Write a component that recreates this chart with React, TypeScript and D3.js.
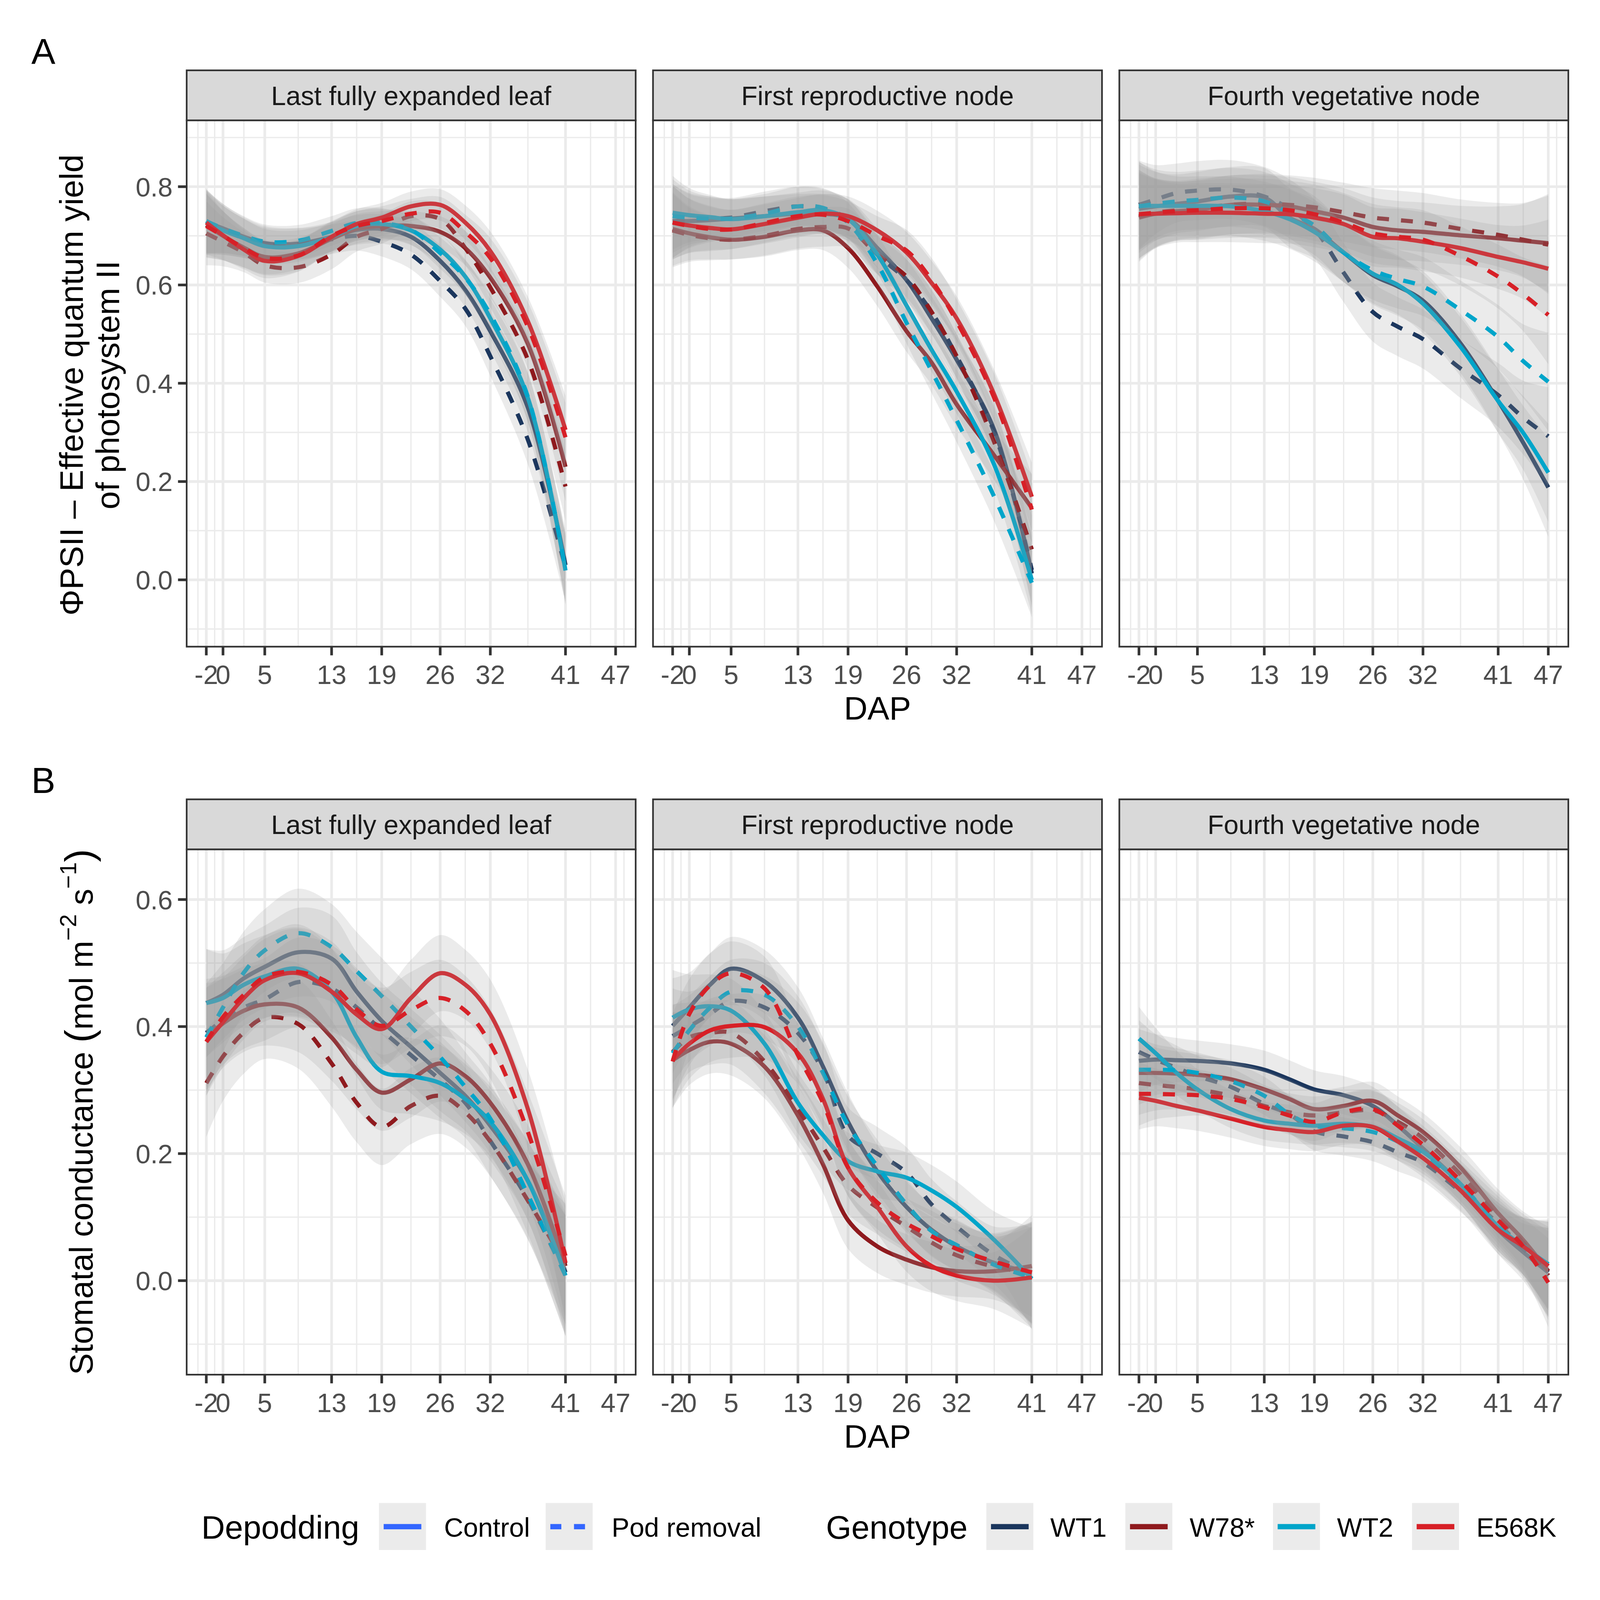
import * as d3 from "d3";

// DAP positions the smooths were read at (panels 1-2 stop at 41, panel 3 runs to 47)
const dapEarly = [-2, 0, 2.5, 5, 9, 13, 16, 19, 22.5, 26, 29, 32, 36.5, 41];
const dapFull = [-2, 0, 2.5, 5, 9, 13, 16, 19, 22.5, 26, 29, 32, 36.5, 41, 44, 47];
const dapBreaks = [-2, 0, 5, 13, 19, 26, 32, 41, 47];
const dapMinor = [-3, -1, 2.5, 9, 16, 22.5, 29, 36.5, 44, 48];

const nodes = ["Last fully expanded leaf", "First reproductive node", "Fourth vegetative node"];
const genotypes = ["WT1", "W78*", "WT2", "E568K"];
const genotypeColors = ["#1B365D", "#8F1A1E", "#00A5CA", "#D72027"];
const depodding = ["Control", "Pod removal"];

const psiiBreaks = [0, 0.2, 0.4, 0.6, 0.8];
const psiiMinor = [-0.1, 0.1, 0.3, 0.5, 0.7, 0.9];
const gsBreaks = [0, 0.2, 0.4, 0.6];
const gsMinor = [-0.1, 0.1, 0.3, 0.5];

// --- PhiPSII, last fully expanded leaf
const psiiLeafWT1 = [0.728, 0.715, 0.698, 0.685, 0.684, 0.698, 0.712, 0.714, 0.698, 0.649, 0.59, 0.506, 0.35, 0.03];
const psiiLeafWT1Pod = [0.73, 0.712, 0.695, 0.682, 0.683, 0.693, 0.7, 0.688, 0.662, 0.608, 0.552, 0.455, 0.285, 0.025];
const psiiLeafW78 = [0.722, 0.7, 0.676, 0.657, 0.664, 0.694, 0.714, 0.72, 0.72, 0.708, 0.675, 0.615, 0.48, 0.23];
const psiiLeafW78Pod = [0.705, 0.688, 0.666, 0.64, 0.636, 0.662, 0.698, 0.714, 0.74, 0.734, 0.675, 0.595, 0.448, 0.19];
const psiiLeafWT2 = [0.727, 0.711, 0.695, 0.679, 0.679, 0.698, 0.72, 0.724, 0.711, 0.672, 0.617, 0.532, 0.37, 0.019];
const psiiLeafWT2Pod = [0.73, 0.715, 0.7, 0.688, 0.69, 0.71, 0.726, 0.726, 0.712, 0.665, 0.615, 0.54, 0.372, 0.02];
const psiiLeafE568K = [0.727, 0.701, 0.672, 0.649, 0.659, 0.698, 0.724, 0.737, 0.76, 0.763, 0.727, 0.669, 0.526, 0.305];
const psiiLeafE568KPod = [0.72, 0.7, 0.675, 0.655, 0.66, 0.7, 0.72, 0.73, 0.745, 0.747, 0.708, 0.655, 0.515, 0.29];
const psiiLeafSE = [0.065, 0.05, 0.04, 0.035, 0.032, 0.03, 0.03, 0.03, 0.03, 0.032, 0.035, 0.04, 0.05, 0.07];

// --- PhiPSII, first reproductive node
const psiiReproWT1 = [0.73, 0.73, 0.732, 0.735, 0.74, 0.745, 0.745, 0.735, 0.675, 0.61, 0.532, 0.448, 0.305, 0.013];
const psiiReproWT1Pod = [0.73, 0.732, 0.735, 0.737, 0.75, 0.76, 0.755, 0.734, 0.662, 0.61, 0.545, 0.455, 0.3, 0.02];
const psiiReproW78 = [0.714, 0.705, 0.697, 0.692, 0.698, 0.711, 0.711, 0.675, 0.597, 0.506, 0.442, 0.357, 0.253, 0.146];
const psiiReproW78Pod = [0.711, 0.702, 0.695, 0.692, 0.7, 0.714, 0.718, 0.715, 0.662, 0.617, 0.545, 0.455, 0.28, 0.062];
const psiiReproWT2 = [0.747, 0.742, 0.738, 0.734, 0.74, 0.748, 0.752, 0.734, 0.662, 0.558, 0.468, 0.383, 0.234, 0.0];
const psiiReproWT2Pod = [0.74, 0.737, 0.735, 0.735, 0.745, 0.76, 0.757, 0.727, 0.643, 0.523, 0.425, 0.325, 0.169, -0.006];
const psiiReproE568K = [0.727, 0.721, 0.716, 0.713, 0.724, 0.737, 0.745, 0.74, 0.711, 0.666, 0.604, 0.532, 0.377, 0.169];
const psiiReproE568KPod = [0.727, 0.72, 0.714, 0.713, 0.726, 0.74, 0.743, 0.73, 0.7, 0.67, 0.61, 0.526, 0.37, 0.143];
const psiiReproSE = [0.075, 0.055, 0.045, 0.04, 0.04, 0.04, 0.04, 0.04, 0.04, 0.042, 0.045, 0.045, 0.05, 0.07];

// --- PhiPSII, fourth vegetative node
const psiiVegWT1 = [0.755, 0.76, 0.765, 0.77, 0.78, 0.778, 0.737, 0.714, 0.666, 0.62, 0.597, 0.568, 0.481, 0.364, 0.279, 0.188];
const psiiVegWT1Pod = [0.763, 0.774, 0.787, 0.792, 0.794, 0.78, 0.755, 0.714, 0.625, 0.545, 0.515, 0.49, 0.43, 0.376, 0.33, 0.292];
const psiiVegW78 = [0.737, 0.745, 0.75, 0.753, 0.763, 0.763, 0.76, 0.75, 0.737, 0.718, 0.711, 0.708, 0.701, 0.695, 0.69, 0.685];
const psiiVegW78Pod = [0.74, 0.747, 0.752, 0.756, 0.763, 0.766, 0.763, 0.758, 0.748, 0.737, 0.732, 0.727, 0.714, 0.702, 0.692, 0.682];
const psiiVegWT2 = [0.761, 0.761, 0.761, 0.761, 0.76, 0.75, 0.734, 0.708, 0.666, 0.623, 0.6, 0.562, 0.474, 0.364, 0.299, 0.218];
const psiiVegWT2Pod = [0.76, 0.765, 0.77, 0.773, 0.778, 0.77, 0.747, 0.721, 0.666, 0.63, 0.612, 0.597, 0.549, 0.494, 0.445, 0.403];
const psiiVegE568K = [0.744, 0.745, 0.746, 0.747, 0.747, 0.745, 0.744, 0.737, 0.724, 0.698, 0.695, 0.688, 0.675, 0.657, 0.646, 0.633];
const psiiVegE568KPod = [0.744, 0.747, 0.75, 0.752, 0.756, 0.756, 0.752, 0.744, 0.727, 0.705, 0.698, 0.692, 0.659, 0.617, 0.581, 0.539];
const psiiVegSE = [0.09, 0.07, 0.06, 0.06, 0.06, 0.06, 0.06, 0.06, 0.06, 0.06, 0.06, 0.06, 0.06, 0.065, 0.075, 0.1];

// --- stomatal conductance, last fully expanded leaf
const gsLeafWT1 = [0.437, 0.45, 0.476, 0.494, 0.517, 0.507, 0.455, 0.409, 0.368, 0.327, 0.291, 0.244, 0.157, 0.013];
const gsLeafWT1Pod = [0.39, 0.41, 0.43, 0.443, 0.47, 0.46, 0.43, 0.394, 0.355, 0.316, 0.28, 0.22, 0.128, 0.008];
const gsLeafW78 = [0.383, 0.405, 0.425, 0.435, 0.43, 0.383, 0.332, 0.296, 0.317, 0.342, 0.322, 0.28, 0.183, 0.023];
const gsLeafW78Pod = [0.311, 0.353, 0.391, 0.414, 0.404, 0.342, 0.28, 0.242, 0.275, 0.291, 0.265, 0.219, 0.126, 0.026];
const gsLeafWT2 = [0.437, 0.445, 0.466, 0.479, 0.491, 0.455, 0.383, 0.329, 0.322, 0.311, 0.286, 0.25, 0.157, 0.008];
const gsLeafWT2Pod = [0.383, 0.43, 0.485, 0.52, 0.547, 0.525, 0.487, 0.448, 0.4, 0.352, 0.305, 0.255, 0.135, 0.008];
const gsLeafE568K = [0.376, 0.407, 0.445, 0.473, 0.484, 0.455, 0.419, 0.396, 0.445, 0.484, 0.466, 0.419, 0.27, 0.028];
const gsLeafE568KPod = [0.376, 0.415, 0.45, 0.478, 0.486, 0.466, 0.427, 0.401, 0.426, 0.445, 0.425, 0.373, 0.234, 0.039];
const gsLeafSE = [0.085, 0.07, 0.065, 0.065, 0.07, 0.068, 0.062, 0.06, 0.06, 0.06, 0.055, 0.055, 0.062, 0.095];

// --- stomatal conductance, first reproductive node
const gsReproWT1 = [0.401, 0.43, 0.466, 0.491, 0.471, 0.414, 0.337, 0.25, 0.172, 0.116, 0.08, 0.054, 0.028, 0.013];
const gsReproWT1Pod = [0.385, 0.4, 0.42, 0.44, 0.43, 0.39, 0.33, 0.228, 0.2, 0.17, 0.12, 0.085, 0.04, 0.01];
const gsReproW78 = [0.347, 0.363, 0.376, 0.373, 0.337, 0.26, 0.183, 0.095, 0.054, 0.033, 0.021, 0.015, 0.015, 0.023];
const gsReproW78Pod = [0.36, 0.383, 0.39, 0.39, 0.345, 0.27, 0.21, 0.15, 0.115, 0.085, 0.06, 0.04, 0.022, 0.012];
const gsReproWT2 = [0.414, 0.427, 0.432, 0.425, 0.373, 0.28, 0.229, 0.188, 0.172, 0.162, 0.142, 0.116, 0.064, 0.003];
const gsReproWT2Pod = [0.358, 0.394, 0.43, 0.455, 0.45, 0.4, 0.327, 0.245, 0.18, 0.12, 0.078, 0.056, 0.025, 0.005];
const gsReproE568K = [0.347, 0.373, 0.394, 0.401, 0.399, 0.358, 0.286, 0.178, 0.116, 0.054, 0.023, 0.008, 0.0, 0.005];
const gsReproE568KPod = [0.345, 0.42, 0.465, 0.484, 0.46, 0.355, 0.28, 0.178, 0.123, 0.09, 0.07, 0.05, 0.03, 0.013];
const gsReproSE = [0.075, 0.055, 0.05, 0.05, 0.05, 0.048, 0.045, 0.045, 0.042, 0.04, 0.04, 0.04, 0.045, 0.08];

// --- stomatal conductance, fourth vegetative node
const gsVegWT1 = [0.346, 0.348, 0.347, 0.346, 0.342, 0.332, 0.317, 0.301, 0.292, 0.275, 0.244, 0.208, 0.152, 0.08, 0.045, 0.013];
const gsVegWT1Pod = [0.36, 0.348, 0.335, 0.322, 0.305, 0.278, 0.262, 0.235, 0.227, 0.218, 0.202, 0.186, 0.14, 0.09, 0.05, 0.013];
const gsVegW78 = [0.327, 0.327, 0.326, 0.324, 0.317, 0.301, 0.286, 0.27, 0.275, 0.283, 0.26, 0.234, 0.178, 0.106, 0.064, 0.015];
const gsVegW78Pod = [0.311, 0.308, 0.305, 0.301, 0.291, 0.275, 0.265, 0.26, 0.265, 0.268, 0.25, 0.224, 0.167, 0.1, 0.06, 0.008];
const gsVegWT2 = [0.381, 0.358, 0.327, 0.301, 0.27, 0.252, 0.247, 0.244, 0.247, 0.242, 0.224, 0.203, 0.152, 0.085, 0.054, 0.026];
const gsVegWT2Pod = [0.332, 0.332, 0.331, 0.327, 0.314, 0.291, 0.262, 0.244, 0.24, 0.234, 0.219, 0.198, 0.152, 0.085, 0.055, 0.023];
const gsVegE568K = [0.288, 0.283, 0.275, 0.268, 0.255, 0.242, 0.237, 0.234, 0.244, 0.242, 0.219, 0.193, 0.142, 0.08, 0.054, 0.023];
const gsVegE568KPod = [0.294, 0.294, 0.293, 0.292, 0.286, 0.273, 0.26, 0.25, 0.265, 0.27, 0.244, 0.214, 0.157, 0.095, 0.054, -0.003];
const gsVegSE = [0.05, 0.04, 0.035, 0.032, 0.03, 0.03, 0.03, 0.03, 0.03, 0.03, 0.03, 0.03, 0.032, 0.038, 0.045, 0.07];

const FONT = "'Liberation Sans', Arial, Helvetica, sans-serif";
const colX = [560, 1959, 3358];
const panelW = 1347;
const xDomain = [-4.35, 49.4];
const DASH = "36 36";

const rows = [
  {
    letter: "A", stripTop: 211, top: 361, bottom: 1940, domain: [-0.136, 0.935],
    breaks: psiiBreaks, minor: psiiMinor,
    panels: [
      { dap: dapEarly, se: psiiLeafSE, series: [psiiLeafWT1, psiiLeafWT1Pod, psiiLeafW78, psiiLeafW78Pod, psiiLeafWT2, psiiLeafWT2Pod, psiiLeafE568K, psiiLeafE568KPod] },
      { dap: dapEarly, se: psiiReproSE, series: [psiiReproWT1, psiiReproWT1Pod, psiiReproW78, psiiReproW78Pod, psiiReproWT2, psiiReproWT2Pod, psiiReproE568K, psiiReproE568KPod] },
      { dap: dapFull, se: psiiVegSE, series: [psiiVegWT1, psiiVegWT1Pod, psiiVegW78, psiiVegW78Pod, psiiVegWT2, psiiVegWT2Pod, psiiVegE568K, psiiVegE568KPod] },
    ],
  },
  {
    letter: "B", stripTop: 2398, top: 2548, bottom: 4124, domain: [-0.148, 0.679],
    breaks: gsBreaks, minor: gsMinor,
    panels: [
      { dap: dapEarly, se: gsLeafSE, series: [gsLeafWT1, gsLeafWT1Pod, gsLeafW78, gsLeafW78Pod, gsLeafWT2, gsLeafWT2Pod, gsLeafE568K, gsLeafE568KPod] },
      { dap: dapEarly, se: gsReproSE, series: [gsReproWT1, gsReproWT1Pod, gsReproW78, gsReproW78Pod, gsReproWT2, gsReproWT2Pod, gsReproE568K, gsReproE568KPod] },
      { dap: dapFull, se: gsVegSE, series: [gsVegWT1, gsVegWT1Pod, gsVegW78, gsVegW78Pod, gsVegWT2, gsVegWT2Pod, gsVegE568K, gsVegE568KPod] },
    ],
  },
];

const fmtY = d3.format(".1f");

function Panel({ row, r, c }) {
  const p = row.panels[c];
  const x0 = colX[c];
  const x = d3.scaleLinear().domain(xDomain).range([x0, x0 + panelW]);
  const y = d3.scaleLinear().domain(row.domain).range([row.bottom, row.top]);
  const curve = d3.curveCatmullRom.alpha(0.5);
  const line = d3.line<number>().x((_, i) => x(p.dap[i])).y((d) => y(d)).curve(curve);
  const ribbon = d3.area<number>()
    .x((_, i) => x(p.dap[i]))
    .y0((d, i) => y(d - p.se[i]))
    .y1((d, i) => y(d + p.se[i]))
    .curve(curve);
  const clipId = `clip-${r}-${c}`;
  const h = row.bottom - row.top;

  return (
    <g>
      <defs>
        <clipPath id={clipId}>
          <rect x={x0} y={row.top} width={panelW} height={h} />
        </clipPath>
      </defs>
      <rect x={x0} y={row.top} width={panelW} height={h} fill="#FFFFFF" />
      <g clipPath={`url(#${clipId})`}>
        {row.minor.map((v) => (
          <line key={`hm${v}`} x1={x0} x2={x0 + panelW} y1={y(v)} y2={y(v)} stroke="#EBEBEB" strokeWidth={4} />
        ))}
        {dapMinor.map((v) => (
          <line key={`vm${v}`} x1={x(v)} x2={x(v)} y1={row.top} y2={row.bottom} stroke="#EBEBEB" strokeWidth={4} />
        ))}
        {row.breaks.map((v) => (
          <line key={`hM${v}`} x1={x0} x2={x0 + panelW} y1={y(v)} y2={y(v)} stroke="#EBEBEB" strokeWidth={8} />
        ))}
        {dapBreaks.map((v) => (
          <line key={`vM${v}`} x1={x(v)} x2={x(v)} y1={row.top} y2={row.bottom} stroke="#EBEBEB" strokeWidth={8} />
        ))}
        {p.series.map((vals, k) => (
          <g key={k}>
            <path d={ribbon(vals)} fill="#999999" fillOpacity={0.2} />
            <path
              d={line(vals)}
              fill="none"
              stroke={genotypeColors[Math.floor(k / 2)]}
              strokeWidth={12.5}
              strokeDasharray={k % 2 === 1 ? DASH : undefined}
            />
          </g>
        ))}
      </g>
      <rect x={x0} y={row.top} width={panelW} height={h} fill="none" stroke="#333333" strokeWidth={5} />
      {/* strip */}
      <rect x={x0} y={row.stripTop} width={panelW} height={row.top - row.stripTop} fill="#D9D9D9" stroke="#333333" strokeWidth={5} />
      <text x={x0 + panelW / 2} y={(row.stripTop + row.top) / 2 + 29} textAnchor="middle" fontSize={80} fill="#1A1A1A" fontFamily={FONT}>
        {nodes[c]}
      </text>
      {/* x axis */}
      {dapBreaks.map((v) => (
        <g key={`xt${v}`}>
          <line x1={x(v)} x2={x(v)} y1={row.bottom} y2={row.bottom + 26} stroke="#333333" strokeWidth={8} />
          <text x={x(v)} y={row.bottom + 112} textAnchor="middle" fontSize={80} fill="#4D4D4D" fontFamily={FONT}>
            {String(v)}
          </text>
        </g>
      ))}
      {/* y axis on first column */}
      {c === 0 &&
        row.breaks.map((v) => (
          <g key={`yt${v}`}>
            <line x1={x0 - 26} x2={x0} y1={y(v)} y2={y(v)} stroke="#333333" strokeWidth={8} />
            <text x={x0 - 42} y={y(v) + 29} textAnchor="end" fontSize={80} fill="#4D4D4D" fontFamily={FONT}>
              {fmtY(v)}
            </text>
          </g>
        ))}
    </g>
  );
}

function Legend() {
  const cy = 4580;
  const keyTop = 4509;
  const keySize = 141;
  const depKeys = [1137, 1637];
  const depLabels = [1332, 1835];
  const genKeys = [2959, 3376, 3819, 4236];
  const genLabels = [3151, 3569, 4011, 4429];
  return (
    <g fontFamily={FONT}>
      <text x={604} y={cy + 36} fontSize={98} fill="#000000">Depodding</text>
      {depodding.map((d, i) => (
        <g key={d}>
          <rect x={depKeys[i]} y={keyTop} width={keySize} height={keySize} fill="#EBEBEB" />
          <line
            x1={depKeys[i] + 14}
            x2={depKeys[i] + keySize - 14}
            y1={cy}
            y2={cy}
            stroke="#3366FF"
            strokeWidth={16}
            strokeDasharray={i === 1 ? "33 38" : undefined}
          />
          <text x={depLabels[i]} y={cy + 30} fontSize={80} fill="#000000">{d}</text>
        </g>
      ))}
      <text x={2478} y={cy + 36} fontSize={98} fill="#000000">Genotype</text>
      {genotypes.map((g, i) => (
        <g key={g}>
          <rect x={genKeys[i]} y={keyTop} width={keySize} height={keySize} fill="#EBEBEB" />
          <line x1={genKeys[i] + 14} x2={genKeys[i] + keySize - 14} y1={cy} y2={cy} stroke={genotypeColors[i]} strokeWidth={16} />
          <text x={genLabels[i]} y={cy + 30} fontSize={80} fill="#000000">{g}</text>
        </g>
      ))}
    </g>
  );
}

export default function App() {
  const midX = colX[1] + panelW / 2;
  return (
    <svg
      viewBox="0 0 4800 4800"
      preserveAspectRatio="xMinYMin meet"
      style={{ position: "fixed", left: 0, top: 0, width: "100vw", height: "100vh", display: "block", background: "#FFFFFF" }}
      fontFamily={FONT}
    >
      <rect x={0} y={0} width={4800} height={4800} fill="#FFFFFF" />
      {rows.map((row, r) => (
        <g key={row.letter}>
          <text x={94} y={row.stripTop - 19} fontSize={108} fill="#000000">{row.letter}</text>
          {row.panels.map((_, c) => (
            <Panel key={c} row={row} r={r} c={c} />
          ))}
          <text x={midX} y={row.bottom + 219} textAnchor="middle" fontSize={98} fill="#000000">DAP</text>
        </g>
      ))}
      {/* y axis titles */}
      <text transform="translate(249,1155) rotate(-90)" textAnchor="middle" fontSize={98} fill="#000000">
        ΦPSII – Effective quantum yield
      </text>
      <text transform="translate(357,1155) rotate(-90)" textAnchor="middle" fontSize={98} fill="#000000">
        of photosystem II
      </text>
      <text transform="translate(278,3336) rotate(-90)" textAnchor="middle" fontSize={98} fill="#000000">
        <tspan>Stomatal conductance </tspan>
        <tspan fontSize={118}>(</tspan>
        <tspan>mol m</tspan>
        <tspan fontSize={70} dy={-50}>−2</tspan>
        <tspan dy={50}> s</tspan>
        <tspan fontSize={70} dy={-50}>−1</tspan>
        <tspan fontSize={118} dy={50}>)</tspan>
      </text>
      <Legend />
    </svg>
  );
}
